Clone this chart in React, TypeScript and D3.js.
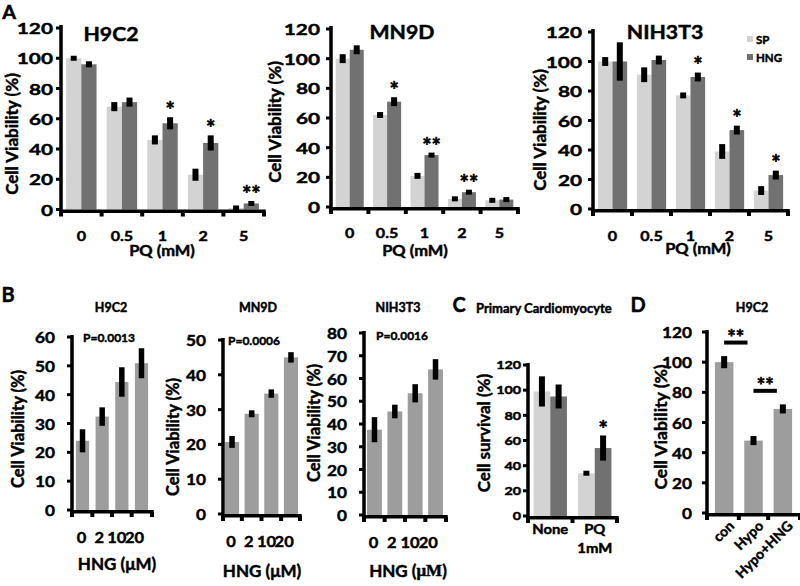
import React from "react";
import * as d3 from "d3";

const FONT = "Lato, 'Open Sans', sans-serif";
const SP_FILL = "#d3d3d3";
const HNG_FILL = "#717171";
const ONE_FILL = "#9d9d9d";

// ---------------- Panel A data ----------------
const pqDoses = ["0", "0.5", "1", "2", "5"];
const viabilityTicks = [0, 20, 40, 60, 80, 100, 120];

const h9c2SP = [100, 68, 46, 23, 1];
const h9c2SPErr = [1, 3, 3, 4, 0.5];
const h9c2HNG = [96, 71, 57, 44, 4];
const h9c2HNGErr = [2, 3, 4, 5, 1.5];
const h9c2Sig = ["", "", "*", "*", "**"];

const mn9dSP = [100, 62, 21, 5.5, 4.5];
const mn9dSPErr = [3, 2, 2, 1, 1];
const mn9dHNG = [106, 71, 35, 10, 5];
const mn9dHNGErr = [3, 3, 1, 1, 1];
const mn9dSig = ["", "*", "**", "**", ""];

const nihSP = [100, 91, 77, 39, 12.5];
const nihSPErr = [3, 5, 2, 5, 3];
const nihHNG = [100, 101, 89.5, 53.5, 23];
const nihHNGErr = [13, 3, 3, 3, 3];
const nihSig = ["", "", "*", "*", "*"];

const legendLabels = ["SP", "HNG"];

// ---------------- Panel B data ----------------
const hngDoses = ["0", "2", "10", "20"];
const bH9c2 = [24, 32.4, 44.4, 50.9];
const bH9c2Err = [4, 3.2, 5.1, 5.2];
const bH9c2Ticks = [0, 10, 20, 30, 40, 50, 60];
const bMn9d = [20.7, 28.8, 34.6, 45];
const bMn9dErr = [1.7, 1, 1.2, 1.5];
const bMn9dTicks = [0, 10, 20, 30, 40, 50];
const bNih = [37.5, 45.5, 53.5, 64];
const bNihErr = [5.5, 3, 4, 4.5];
const bNihTicks = [0, 10, 20, 30, 40, 50, 60, 70, 80];
const bPValues = ["P=0.0013", "P=0.0006", "P=0.0016"];

// ---------------- Panel C data ----------------
const cCats = ["None", "PQ"];
const cCatSub = ["", "1mM"];
const cSP = [99, 34];
const cSPErr = [12, 1.5];
const cHNG = [95, 54];
const cHNGErr = [9.5, 10];
const cSig = ["", "*"];

// ---------------- Panel D data ----------------
const dCats = ["con", "Hypo", "Hypo+HNG"];
const dVals = [100, 48, 69];
const dErr = [4, 3, 3];
const dSigPairs = [
  [0, 1],
  [1, 2],
];
const dSigLevels = [113, 81];
const dSigText = ["**", "**"];

// ---------------- helpers ----------------
function Txt(props: any) {
  const {
    x,
    y,
    children,
    fs = 14,
    sx = 1,
    anchor = "middle",
    rot = 0,
    weight = 700,
    family = FONT,
    baseline = "central",
    fill = "#000",
    sw = 0.45,
  } = props;
  return (
    <text
      transform={`translate(${x},${y}) rotate(${rot}) scale(${sx},1)`}
      fontSize={fs}
      fontWeight={weight}
      fontFamily={family}
      textAnchor={anchor}
      dominantBaseline={baseline}
      fill={fill}
      stroke={fill}
      strokeWidth={sw}
    >
      {children}
    </text>
  );
}

function ErrBar({ cx, ya, yb, w }: any) {
  const top = Math.min(ya, yb);
  let h = Math.abs(yb - ya);
  let t = top;
  if (h < 5) {
    t = (ya + yb) / 2 - 2.5;
    h = 5;
  }
  return <rect x={cx - w / 2} y={t} width={w} height={h} fill="#000" />;
}

function Star({ x, yTop, s, fs = 22, gap = 13 }: any) {
  return (
    <Txt x={x} y={yTop - gap + fs * 0.58} fs={fs} baseline="alphabetic" sw={0.6}>
      {s}
    </Txt>
  );
}

function Axes({ x0, x1, yZero, axisTop, y, ticks, bounds, fs, sx, gap }: any) {
  return (
    <g>
      <rect x={x0 - 1.75} y={axisTop} width={3.5} height={yZero - axisTop + 3.5} fill="#000" />
      {ticks.map((t: number) => (
        <g key={t}>
          <rect x={x0 - 5} y={y(t) - 1.5} width={4} height={3} fill="#000" />
          <Txt x={x0 - gap} y={y(t)} fs={fs} sx={sx} anchor="end">
            {t}
          </Txt>
        </g>
      ))}
      <rect x={x0 - 1.75} y={yZero} width={x1 - x0 + 3.5} height={3.5} fill="#000" />
      {bounds.map((b: number, i: number) => (
        <rect key={i} x={b - 2} y={yZero + 2} width={4} height={5} fill="#000" />
      ))}
    </g>
  );
}

function GroupPanel(p: any) {
  const y = d3.scaleLinear().domain([0, p.maxTick]).range([p.yZero, p.yTop]);
  const xb = d3.scaleBand<string>().domain(p.cats).range([p.x0, p.x1]).padding(0);
  const inner = d3
    .scaleBand<string>()
    .domain(legendLabels)
    .range([0, xb.bandwidth()])
    .paddingInner(0)
    .paddingOuter(1 / 3);
  const bw = inner.bandwidth();
  const bounds = [...p.cats.map((c: string) => xb(c) as number), p.x1];
  return (
    <g>
      {p.cats.map((c: string, i: number) => {
        const xs = (xb(c) as number) + (inner("SP") as number);
        const xh = (xb(c) as number) + (inner("HNG") as number);
        return (
          <g key={c}>
            <rect x={xs} y={y(p.sp[i])} width={bw} height={p.yZero - y(p.sp[i])} fill={SP_FILL} />
            <rect x={xh} y={y(p.hng[i])} width={bw} height={p.yZero - y(p.hng[i])} fill={HNG_FILL} />
            <ErrBar cx={xs + bw / 2} ya={y(p.sp[i] - p.spErr[i])} yb={y(p.sp[i] + p.spErr[i])} w={p.errW} />
            <ErrBar cx={xh + bw / 2} ya={y(p.hng[i] - p.hngErr[i])} yb={y(p.hng[i] + p.hngErr[i])} w={p.errW} />
            {p.sig[i] ? (
              <Star x={xh + bw / 2} yTop={y(p.hng[i] + p.hngErr[i])} s={p.sig[i]} fs={p.starFs} gap={p.starGap} />
            ) : null}
            <Txt x={(xb(c) as number) + xb.bandwidth() / 2} y={p.catY} fs={p.catFs} sx={p.catSx}>
              {c}
            </Txt>
            {p.catSub && p.catSub[i] ? (
              <Txt x={(xb(c) as number) + xb.bandwidth() / 2} y={p.catY + p.catSubDy} fs={p.catFs} sx={p.catSx}>
                {p.catSub[i]}
              </Txt>
            ) : null}
          </g>
        );
      })}
      <Axes
        x0={p.x0}
        x1={p.x1}
        yZero={p.yZero}
        axisTop={p.axisTop}
        y={y}
        ticks={p.ticks}
        bounds={bounds}
        fs={p.tickFs}
        sx={p.tickSx}
        gap={p.tickGap}
      />
    </g>
  );
}

function SinglePanel(p: any) {
  const y = d3.scaleLinear().domain([0, p.maxTick]).range([p.yZero, p.yTop]);
  const xb = d3
    .scaleBand<string>()
    .domain(p.cats)
    .range([p.x0, p.x1])
    .paddingInner(p.pIn)
    .paddingOuter(p.pOut);
  const bw = xb.bandwidth();
  const bounds: number[] = [p.x0];
  for (let i = 1; i < p.cats.length; i++) {
    bounds.push(((xb(p.cats[i - 1]) as number) + bw + (xb(p.cats[i]) as number)) / 2);
  }
  bounds.push(p.x1);
  const labelX = d3
    .scaleLinear()
    .domain([p.x0, p.x1])
    .range([p.x0, p.x0 + (p.x1 - p.x0) * (p.labelSqueeze || 1)]);
  return (
    <g>
      {p.cats.map((c: string, i: number) => {
        const xs = xb(c) as number;
        const cx = xs + bw / 2;
        return (
          <g key={c}>
            <rect x={xs} y={y(p.vals[i])} width={bw} height={p.yZero - y(p.vals[i])} fill={ONE_FILL} />
            <ErrBar cx={cx} ya={y(p.vals[i] - p.errs[i])} yb={y(p.vals[i] + p.errs[i])} w={p.errW} />
            {p.rotLabels ? (
              <Txt x={cx + p.rotDx} y={p.catY} fs={p.catFs} rot={-45} anchor="end">
                {c}
              </Txt>
            ) : (
              <Txt x={labelX(cx) + (p.labelDx || 0)} y={p.catY} fs={p.catFs} sx={p.catSx}>
                {c}
              </Txt>
            )}
          </g>
        );
      })}
      {p.sigPairs
        ? p.sigPairs.map((pr: number[], k: number) => {
            const a = (xb(p.cats[pr[0]]) as number) + bw / 2;
            const b = (xb(p.cats[pr[1]]) as number) + bw / 2 - 6;
            const yy = y(p.sigLevels[k]);
            return (
              <g key={k}>
                <rect x={a} y={yy - 2} width={b - a} height={4} fill="#000" />
                <Txt x={(a + b) / 2} y={yy - 9 + 0.58 * 20} fs={20} baseline="alphabetic" sw={0.6}>
                  {p.sigText[k]}
                </Txt>
              </g>
            );
          })
        : null}
      <Axes
        x0={p.x0}
        x1={p.x1}
        yZero={p.yZero}
        axisTop={p.axisTop}
        y={y}
        ticks={p.ticks}
        bounds={bounds}
        fs={p.tickFs}
        sx={p.tickSx}
        gap={p.tickGap}
      />
    </g>
  );
}

export default function App() {
  const aCommon = {
    cats: pqDoses,
    maxTick: 120,
    ticks: viabilityTicks,
    tickFs: 16,
    tickSx: 1.3,
    catFs: 14,
    catSx: 1.15,
    errW: 6,
    starFs: 22,
    starGap: 12,
  };
  const bCommon = {
    cats: hngDoses,
    tickFs: 15,
    tickSx: 1.15,
    tickGap: 17,
    catFs: 15,
    catSx: 1.1,
    errW: 5.5,
    labelSqueeze: 0.9,
    labelDx: 0,
  };
  return (
    <svg
      width={800}
      height={586}
      viewBox="0 0 800 586"
      style={{ position: "absolute", left: 0, top: 0 }}
      fontFamily={FONT}
    >
      <rect width={800} height={586} fill="#fff" />

      {/* ===== Panel A ===== */}
      <Txt x={9} y={19} fs={18} sx={1.1} baseline="alphabetic">A</Txt>

      <GroupPanel
        {...aCommon}
        x0={61}
        x1={264}
        yZero={209.5}
        yTop={28}
        axisTop={25}
        tickGap={8}
        catY={235}
        sp={h9c2SP}
        spErr={h9c2SPErr}
        hng={h9c2HNG}
        hngErr={h9c2HNGErr}
        sig={h9c2Sig}
      />
      <Txt x={111} y={33.5} fs={19} sx={1.12}>H9C2</Txt>
      <Txt x={162} y={250} fs={15} sx={1.1}>PQ (mM)</Txt>
      <Txt x={11} y={134} fs={17} rot={-90}>Cell Viability (%)</Txt>

      <GroupPanel
        {...aCommon}
        x0={331}
        x1={518}
        yZero={207}
        yTop={29}
        axisTop={26}
        tickGap={11}
        catY={232}
        sp={mn9dSP}
        spErr={mn9dSPErr}
        hng={mn9dHNG}
        hngErr={mn9dHNGErr}
        sig={mn9dSig}
      />
      <Txt x={402} y={31} fs={19} sx={1.12}>MN9D</Txt>
      <Txt x={415} y={250} fs={15} sx={1.1}>PQ (mM)</Txt>
      <Txt x={274} y={122} fs={17} rot={-90}>Cell Viability (%)</Txt>

      <GroupPanel
        {...aCommon}
        x0={593}
        x1={788}
        yZero={209}
        yTop={32}
        axisTop={29}
        tickGap={11}
        catY={235}
        sp={nihSP}
        spErr={nihSPErr}
        hng={nihHNG}
        hngErr={nihHNGErr}
        sig={nihSig}
      />
      <Txt x={665} y={31} fs={19} sx={1.12}>NIH3T3</Txt>
      <Txt x={698} y={248} fs={15} sx={1.1}>PQ (mM)</Txt>
      <Txt x={539} y={130} fs={17} rot={-90}>Cell Viability (%)</Txt>
      {legendLabels.map((l, i) => (
        <g key={l}>
          <rect x={747} y={36 + i * 18} width={6} height={6} fill={i === 0 ? SP_FILL : HNG_FILL} />
          <Txt x={756} y={39.5 + i * 18} fs={11.5} anchor="start">
            {l}
          </Txt>
        </g>
      ))}

      {/* ===== Panel B ===== */}
      <Txt x={8} y={302} fs={20} baseline="alphabetic">B</Txt>

      <SinglePanel
        {...bCommon}
        x0={72}
        x1={152}
        yZero={510}
        yTop={337}
        axisTop={335}
        maxTick={60}
        ticks={bH9c2Ticks}
        pIn={0.33}
        pOut={0.2}
        catY={537}
        vals={bH9c2}
        errs={bH9c2Err}
      />
      <Txt x={111} y={307} fs={12.5}>H9C2</Txt>
      <Txt x={83} y={337} fs={12} anchor="start">{bPValues[0]}</Txt>
      <Txt x={117} y={563} fs={17}>HNG (μM)</Txt>
      <Txt x={18} y={429} fs={16.5} rot={-90}>Cell Viability (%)</Txt>

      <SinglePanel
        {...bCommon}
        x0={223}
        x1={300}
        yZero={514}
        yTop={340}
        axisTop={338}
        maxTick={50}
        ticks={bMn9dTicks}
        pIn={0.28}
        pOut={0.1}
        catY={541}
        vals={bMn9d}
        errs={bMn9dErr}
      />
      <Txt x={258} y={307} fs={12.5}>MN9D</Txt>
      <Txt x={228} y={340} fs={12} anchor="start">{bPValues[1]}</Txt>
      <Txt x={262} y={570} fs={17}>HNG (μM)</Txt>
      <Txt x={173} y={437} fs={16.5} rot={-90}>Cell Viability (%)</Txt>

      <SinglePanel
        {...bCommon}
        x0={364}
        x1={446}
        yZero={515}
        yTop={333}
        axisTop={331}
        maxTick={80}
        ticks={bNihTicks}
        pIn={0.27}
        pOut={0.15}
        catY={542}
        vals={bNih}
        errs={bNihErr}
      />
      <Txt x={398} y={307} fs={12.5}>NIH3T3</Txt>
      <Txt x={376} y={335} fs={12} anchor="start">{bPValues[2]}</Txt>
      <text
        x={408}
        y={570}
        fontSize={17}
        fontWeight={700}
        textAnchor="middle"
        dominantBaseline="central"
        stroke="#000"
        strokeWidth={0.45}
      >
        <tspan fontFamily={FONT}>HNG (</tspan>
        <tspan fontFamily="'Liberation Serif', serif">μM</tspan>
        <tspan fontFamily={FONT}>)</tspan>
      </text>
      <Txt x={314} y={423} fs={16.5} rot={-90}>Cell Viability (%)</Txt>

      {/* ===== Panel C ===== */}
      <Txt x={459} y={312} fs={20} baseline="alphabetic">C</Txt>
      <Txt x={476} y={308} fs={13} anchor="start">Primary Cardiomyocyte</Txt>
      <GroupPanel
        cats={cCats}
        catSub={cCatSub}
        catSubDy={19}
        maxTick={120}
        ticks={viabilityTicks}
        tickFs={11}
        tickSx={1.3}
        tickGap={7}
        catFs={13.5}
        catSx={1.1}
        errW={6}
        starFs={22}
        starGap={11}
        x0={528}
        x1={617}
        yZero={516}
        yTop={365}
        axisTop={363}
        catY={529}
        sp={cSP}
        spErr={cSPErr}
        hng={cHNG}
        hngErr={cHNGErr}
        sig={cSig}
      />
      <Txt x={483} y={433} fs={17} rot={-90}>Cell survival (%)</Txt>

      {/* ===== Panel D ===== */}
      <Txt x={638} y={312} fs={20} baseline="alphabetic">D</Txt>
      <SinglePanel
        cats={dCats}
        x0={707}
        x1={800}
        yZero={513}
        yTop={332}
        axisTop={330}
        maxTick={120}
        ticks={viabilityTicks}
        tickFs={15}
        tickSx={1.15}
        tickGap={15}
        pIn={0.37}
        pOut={0.27}
        catFs={14}
        rotLabels
        rotDx={7}
        catY={523}
        errW={6}
        vals={dVals}
        errs={dErr}
        sigPairs={dSigPairs}
        sigLevels={dSigLevels}
        sigText={dSigText}
      />
      <Txt x={752} y={307} fs={12.5}>H9C2</Txt>
      <Txt x={660} y={427} fs={17.5} rot={-90}>Cell Viability (%)</Txt>
    </svg>
  );
}
